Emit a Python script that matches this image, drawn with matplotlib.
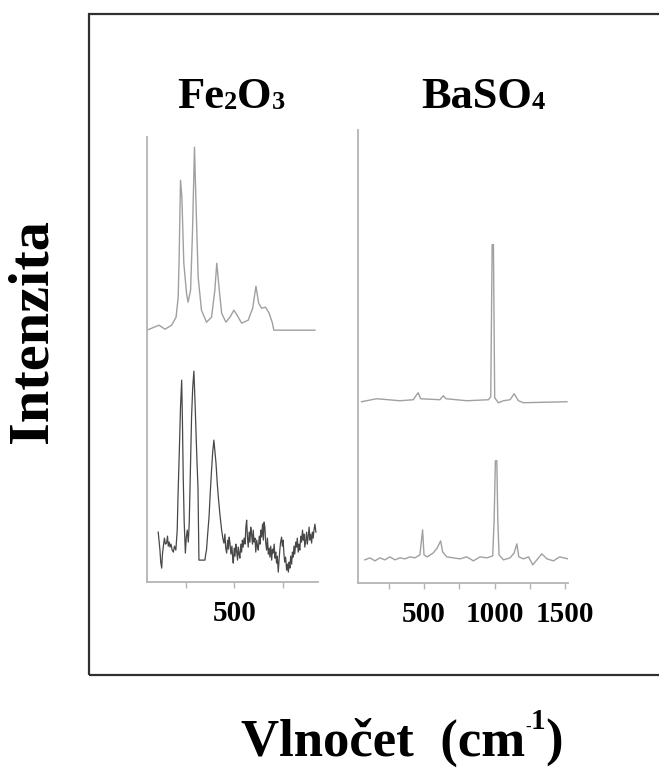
import numpy as np
import matplotlib.pyplot as plt
from matplotlib.patches import Rectangle
from matplotlib.transforms import IdentityTransform

# ---------------------------------------------------------------
# Dati (numero d'onda in cm^-1, intensita' arb.)
# ---------------------------------------------------------------
# Fe2O3 - spettro di riferimento (sopra)
fe_top_x = [50, 112, 143, 177, 200, 211, 216, 223, 230, 240, 254, 262, 275, 285, 295,
            302, 314, 331, 357, 383, 400, 410, 423, 435, 457, 478, 498, 515, 538, 572,
            595, 612, 626, 641, 661, 680, 697, 704, 916]
fe_top_y = [252, 257, 253, 257, 265, 285, 325, 402, 385, 319, 289, 280, 292, 352, 435,
            385, 305, 272, 260, 265, 292, 319, 292, 269, 260, 265, 272, 267, 259, 262,
            274, 296, 279, 274, 275, 269, 259, 252, 252]

# Fe2O3 - spettro misurato (sotto, rumoroso)
fe_bot_x = [108, 112, 117, 121, 126, 130, 134, 140, 145, 151, 156, 160, 165, 169, 174,
            180, 186, 192, 199, 203, 206, 210, 214, 217, 223, 229, 233, 237, 242, 248,
            253, 258, 263, 268, 274, 280, 286, 292, 297, 303, 308, 313, 316, 318, 349,
            353, 357, 363, 370, 376, 383, 389, 395, 400, 406, 412, 418, 426, 435, 441,
            447, 452, 456, 461, 466, 470, 474, 478, 483, 488, 492, 495, 500, 504, 508,
            512, 517, 521, 525, 529, 534, 538, 542, 546, 551, 556, 560, 564, 568, 572,
            577, 581, 585, 589, 594, 598, 602, 607, 611, 616, 620, 624, 629, 633, 637,
            641, 646, 650, 654, 658, 662, 667, 671, 676, 680, 684, 688, 693, 697, 701,
            706, 710, 714, 718, 722, 727, 731, 735, 739, 744, 748, 752, 756, 760, 765,
            770, 774, 779, 783, 787, 791, 796, 800, 804, 808, 812, 817, 821, 825, 830,
            834, 838, 843, 847, 852, 856, 860, 864, 869, 873, 877, 881, 886, 890, 894,
            899, 903, 907, 911, 916, 921]
fe_bot_y = [50, 42, 32, 20, 14, 28, 35, 44, 38, 39, 46, 36, 40, 35, 38,
            32, 30, 36, 32, 44, 52, 85, 110, 132, 175, 202, 160, 105, 60, 29,
            45, 52, 40, 59, 110, 165, 195, 211, 185, 149, 120, 95, 50, 22, 22,
            28, 32, 48, 65, 88, 112, 130, 142, 132, 119, 100, 85, 68, 52, 44,
            39, 48, 34, 29, 42, 33, 45, 39, 28, 36, 24, 19, 34, 26, 38,
            32, 22, 35, 28, 24, 38, 30, 42, 35, 44, 38, 55, 62, 45, 35,
            50, 40, 55, 49, 38, 52, 40, 44, 30, 42, 36, 32, 46, 38, 52,
            45, 58, 42, 60, 55, 40, 32, 44, 28, 34, 25, 36, 22, 33, 29,
            38, 24, 30, 19, 26, 10, 22, 32, 40, 45, 36, 42, 29, 20, 25,
            12, 18, 10, 20, 14, 26, 18, 30, 25, 36, 28, 40, 35, 44, 30,
            38, 32, 46, 40, 52, 42, 48, 35, 42, 50, 38, 45, 55, 42, 48,
            39, 50, 44, 52, 58, 50]

# BaSO4 - spettro di riferimento (sopra)
ba_top_x = [56, 163, 328, 423, 447, 458, 475, 612, 636, 655, 802, 956, 972, 982, 991,
            1000, 1026, 1062, 1109, 1138, 1168, 1204, 1512]
ba_top_y = [181, 184, 182, 183, 188, 190, 184, 183, 187, 184, 182, 183, 186, 338, 338,
            185, 180, 182, 183, 189, 182, 180, 181]

# BaSO4 - spettro misurato (sotto)
ba_bot_x = [80, 115, 151, 186, 222, 257, 293, 328, 364, 399, 435, 470, 489, 499, 522,
            565, 593, 617, 631, 660, 707, 754, 802, 849, 896, 944, 986, 996, 1005, 1015,
            1022, 1031, 1062, 1109, 1138, 1157, 1171, 1204, 1240, 1270, 1299, 1334, 1370,
            1417, 1460, 1520]
ba_bot_y = [23, 25, 22, 25, 23, 26, 23, 25, 24, 26, 25, 28, 53, 28, 26,
            30, 35, 42, 31, 26, 25, 24, 26, 22, 26, 25, 27, 63, 122, 122,
            63, 28, 23, 25, 30, 39, 26, 24, 26, 18, 23, 29, 24,
            22, 26, 24]

fe_ticks = [250, 500, 750]
fe_ticklabels = ['', '500', '']
ba_ticks = [250, 500, 750, 1000, 1250, 1500]
ba_ticklabels = ['', '500', '', '1000', '', '1500']

# ---------------------------------------------------------------
# Stile
# ---------------------------------------------------------------
plt.rcParams['font.family'] = ['Liberation Serif', 'DejaVu Serif']
plt.rcParams['font.weight'] = 'bold'

W, H = 659, 771
fig = plt.figure(figsize=(W / 100, H / 100), dpi=100)
renderer = fig.canvas.get_renderer()

ax1 = fig.add_axes([0.223, 0.245, 0.259, 0.577])
ax2 = fig.add_axes([0.543, 0.244, 0.319, 0.588])

ax1.plot(fe_top_x, fe_top_y, color='#a0a0a0', linewidth=1.0)
ax1.plot(fe_bot_x, fe_bot_y, color='#484848', linewidth=0.9)
ax2.plot(ba_top_x, ba_top_y, color='#a0a0a0', linewidth=1.0)
ax2.plot(ba_bot_x, ba_bot_y, color='#a0a0a0', linewidth=1.0)

ax1.set_xlim(50, 930)
ax1.set_ylim(0, 445)
ax2.set_xlim(30, 1520)
ax2.set_ylim(0, 453)

for ax, ticks, labels in [(ax1, fe_ticks, fe_ticklabels), (ax2, ba_ticks, ba_ticklabels)]:
    ax.spines['top'].set_visible(False)
    ax.spines['right'].set_visible(False)
    for s in ['left', 'bottom']:
        ax.spines[s].set_color('#b4b4b4')
        ax.spines[s].set_linewidth(1.3)
    ax.set_yticks([])
    ax.set_xticks(ticks)
    ax.set_xticklabels(labels, fontsize=21, fontweight='bold')
    ax.tick_params(axis='x', direction='out', length=4, width=1.0, color='#b4b4b4', pad=9)
    ax.set_facecolor('none')


def testo_composto(x, y_img, pezzi):
    # scrive pezzi di testo uno dopo l'altro (pixel, y dall'alto)
    for s, size, dy in pezzi:
        t = fig.text(x, H - y_img + dy, s, fontsize=size, fontweight='bold',
                     ha='left', va='baseline', transform=IdentityTransform())
        x += t.get_window_extent(renderer).width


# Titoli dei pannelli (pedici piccoli)
testo_composto(177, 108, [('Fe', 32, 0), ('2', 19, -1), ('O', 32, 0), ('3', 19, -1)])
testo_composto(421, 108, [('BaSO', 32, 0), ('4', 19, -1)])

# Etichette degli assi
fig.text(33 / W, 1 - 331 / H, 'Intenzita', fontsize=42, fontweight='bold',
         rotation=90, ha='center', va='center')
testo_composto(241, 756, [('Vlnočet  (cm', 38, 0), ('-', 12, 24), ('1', 21, 27), (')', 38, 0)])

# Cornice
fig.add_artist(Rectangle((89 / W, 1 - 675 / H), 0.9, (675 - 14) / H,
                         transform=fig.transFigure, fill=False,
                         edgecolor='#303030', linewidth=1.6))

plt.savefig('out.png', dpi=100)
